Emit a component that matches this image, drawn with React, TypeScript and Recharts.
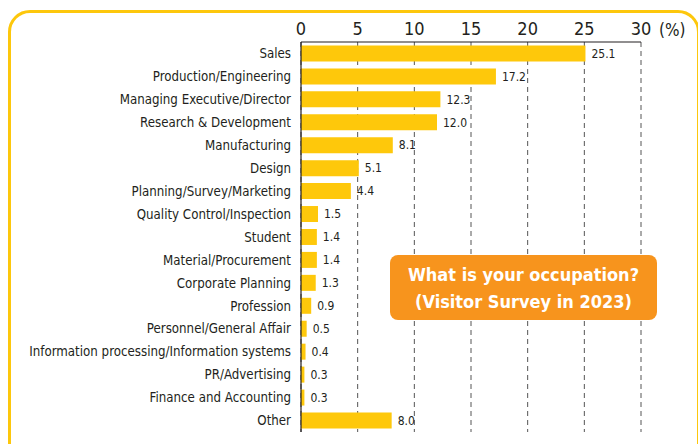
import React from 'react';
import { BarChart, Bar, XAxis, YAxis, CartesianGrid, LabelList } from 'recharts';

const categories = [
  'Sales',
  'Production/Engineering',
  'Managing Executive/Director',
  'Research & Development',
  'Manufacturing',
  'Design',
  'Planning/Survey/Marketing',
  'Quality Control/Inspection',
  'Student',
  'Material/Procurement',
  'Corporate Planning',
  'Profession',
  'Personnel/General Affair',
  'Information processing/Information systems',
  'PR/Advertising',
  'Finance and Accounting',
  'Other',
];

const shares = [25.1, 17.2, 12.3, 12.0, 8.1, 5.1, 4.4, 1.5, 1.4, 1.4, 1.3, 0.9, 0.5, 0.4, 0.3, 0.3, 8.0];

const xTicks = [0, 5, 10, 15, 20, 25, 30];

const data = categories.map((name, i) => ({ name, value: shares[i] }));

const FONT = '"DejaVu Sans Condensed", "DejaVu Sans", sans-serif';
const INK = '#231f20';

export default function App() {
  return (
    <div
      style={{
        position: 'absolute',
        left: 0,
        top: 0,
        width: 698,
        height: 444,
        overflow: 'hidden',
        background: '#fff',
        fontFamily: FONT,
        fontStretch: 'condensed',
      }}
    >
      <div
        style={{
          position: 'absolute',
          left: 8,
          top: 10,
          width: 692,
          height: 470,
          border: '3px solid #FDC70C',
          borderRadius: 22,
          boxSizing: 'border-box',
        }}
      />
      <BarChart
        layout="vertical"
        width={698}
        height={444}
        data={data}
        margin={{ top: 12, right: 57, bottom: 12, left: 8 }}
        barCategoryGap="15%"
        style={{ position: 'absolute', left: 0, top: 0 }}
      >
        <CartesianGrid horizontal={false} stroke="#555" strokeDasharray="5 4" />
        <XAxis
          type="number"
          orientation="top"
          domain={[0, 30]}
          ticks={xTicks}
          height={30}
          tickLine={false}
          axisLine={{ stroke: INK, strokeWidth: 1.2 }}
          tick={{ fill: INK, fontSize: 18, fontFamily: FONT }}
          tickMargin={1}
          interval={0}
        />
        <YAxis
          type="category"
          dataKey="name"
          width={293}
          tickLine={false}
          axisLine={{ stroke: INK, strokeWidth: 1.2 }}
          tick={{ fill: INK, fontSize: 13.2, fontFamily: FONT }}
          tickMargin={4}
          interval={0}
        />
        <Bar dataKey="value" fill="#FEC80B" isAnimationActive={false}>
          <LabelList
            dataKey="value"
            position="right"
            offset={6}
            formatter={(v: any) => Number(v).toFixed(1)}
            style={{ fill: INK, fontSize: 12, fontFamily: FONT }}
          />
        </Bar>
      </BarChart>
      <div
        style={{
          position: 'absolute',
          left: 659,
          top: 19,
          fontSize: 17,
          color: INK,
          lineHeight: '22px',
        }}
      >
        (%)
      </div>
      <div
        style={{
          position: 'absolute',
          left: 390,
          top: 255,
          width: 267,
          height: 65,
          background: '#F7941D',
          borderRadius: 8,
          color: '#fff',
          fontWeight: 'bold',
          fontSize: 18,
          lineHeight: '27px',
          textAlign: 'center',
          whiteSpace: 'nowrap',
          display: 'flex',
          flexDirection: 'column',
          justifyContent: 'center',
        }}
      >
        <div>What is your occupation?</div>
        <div>(Visitor Survey in 2023)</div>
      </div>
    </div>
  );
}
